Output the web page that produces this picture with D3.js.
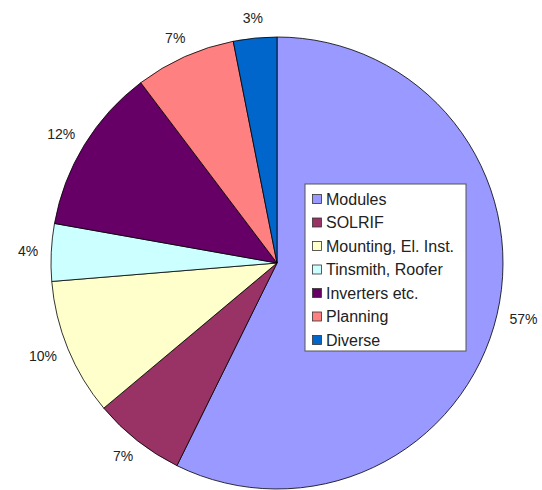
<!DOCTYPE html>
<html lang="en">
	<head>
		<meta charset="utf-8">
		<title>Cost shares pie</title>
		<style>
			body { margin: 0; background: #fff; }
			#chart text { font-family: Arial, "Liberation Sans", sans-serif; font-size: 14px; fill: #222; }
			#chart .item text { font-size: 16px; }
		</style>
	</head>
	<body>
		<svg id="chart" width="542" height="490"></svg>
		<script src="https://d3js.org/d3.v7.min.js"></script>
		<script>
			"use strict";

			var categories = ["Modules", "SOLRIF", "Mounting, El. Inst.", "Tinsmith, Roofer", "Inverters etc.", "Planning", "Diverse"];
			var shares = [57.3, 6.6, 9.8, 4.1, 11.9, 7.2, 3.1];
			var colors = ["#9999ff", "#993366", "#ffffcc", "#ccffff", "#660066", "#ff8080", "#0066cc"];

			var svg = d3.select("#chart");
			var cx = 277, cy = 263, r = 226;

			var pie = d3.pie().sort(null).value(function(d){ return d; });
			var arcs = pie(shares);
			var arc = d3.arc().innerRadius(0).outerRadius(r);

			var g = svg.append("g").attr("transform", "translate(" + cx + "," + cy + ")");

			g.selectAll("path")
				.data(arcs)
				.enter()
				.append("path")
				.attr("d", arc)
				.attr("fill", function(d,i){ return colors[i]; })
				.attr("stroke", "#000")
				.attr("stroke-width", 0.8);

			// percentage labels, box pushed outward from a point just past the rim
			var labels = g.selectAll("text.pct")
				.data(arcs)
				.enter()
				.append("text")
				.attr("class", "pct")
				.attr("text-anchor", "middle")
				.attr("dy", "0.35em")
				.text(function(d){ return Math.round(d.value) + "%"; });

			labels.each(function(d){
				var a = (d.startAngle + d.endAngle) / 2;
				var w = this.getComputedTextLength();
				var R = r + 13;
				var x = Math.sin(a) * R + Math.sin(a) * w / 2;
				var y = -Math.cos(a) * R - Math.cos(a) * 7;
				d3.select(this).attr("x", x).attr("y", y);
			});

			// legend
			var leg = svg.append("g").attr("transform", "translate(305,184)");
			leg.append("rect")
				.attr("width", 161)
				.attr("height", 167)
				.attr("fill", "#fff")
				.attr("stroke", "#555")
				.attr("stroke-width", 1);

			var item = leg.selectAll("g.item")
				.data(categories)
				.enter()
				.append("g")
				.attr("class", "item")
				.attr("transform", function(d,i){ return "translate(0," + (15 + i * 23.5) + ")"; });

			item.append("rect")
				.attr("x", 7.5)
				.attr("y", -4.5)
				.attr("width", 9)
				.attr("height", 9)
				.attr("fill", function(d,i){ return colors[i]; })
				.attr("stroke", "#333")
				.attr("stroke-width", 0.8);

			item.append("text")
				.attr("x", 21)
				.attr("dy", "0.35em")
				.text(function(d){ return d; });
		</script>
	</body>
</html>
